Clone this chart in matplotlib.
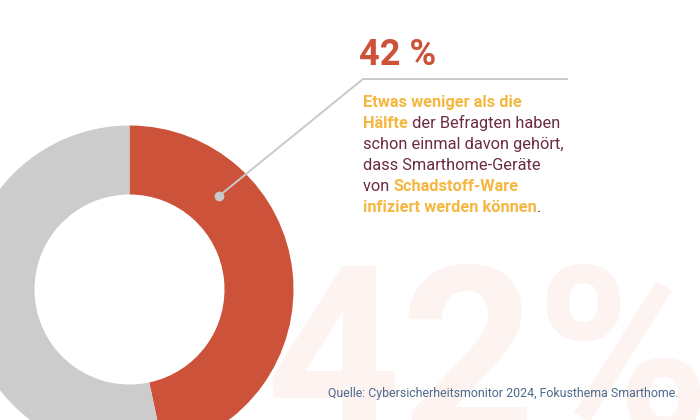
import matplotlib.pyplot as plt

# donut data: share who heard of it vs. not (rest of respondents not shown)
values = [42, 48]
colors = ['#cd523a', '#cccccc']

big_label = '42 %'
bg_label = '42%'
source = 'Quelle: Cybersicherheitsmonitor 2024, Fokusthema Smarthome.'

# (text, highlighted) pieces per line
text_lines = [
    [('Etwas weniger als die', True)],
    [('Hälfte', True), (' der Befragten haben', False)],
    [('schon einmal davon gehört,', False)],
    [('dass Smarthome-Geräte', False)],
    [('von ', False), ('Schadstoff-Ware', True)],
    [('infiziert werden können', True), ('.', False)],
]

YELLOW = '#f5b73f'
MAROON = '#6c2b3f'
FONT = 'Roboto'

W, H = 700, 420
fig = plt.figure(figsize=(7, 4.2), dpi=100)
ax = fig.add_axes([0, 0, 1, 1])

# faint background number
ax.text(266, H - 434, bg_label, fontsize=170, fontweight='bold', family=FONT,
        color='#fdf3f0', va='baseline', ha='left', zorder=0)

# donut
cx, cy = 129.5, H - 289.5
ax.pie(values, colors=colors, startangle=90, counterclock=False,
       center=(cx, cy), radius=164, frame=True,
       wedgeprops=dict(width=69, linewidth=0, zorder=2))

# leader line with dot
ax.plot([219, 363, 568], [H - 196, H - 79, H - 79], color='#c9c9c9', lw=1.4,
        zorder=3, solid_capstyle='butt')
ax.plot([219], [H - 196], 'o', color='#c9c9c9', ms=6, zorder=4)

ax.text(359, H - 65, big_label, fontsize=26, fontweight='bold', family=FONT,
        color='#cd523a', va='baseline', ha='left')

# multi-colour text block
renderer = fig.canvas.get_renderer()
x0, y0, step = 363, H - 107, 21
for i, parts in enumerate(text_lines):
    x = x0
    y = y0 - i * step
    for txt, hi in parts:
        t = ax.text(x, y, txt, fontsize=11.8, family=FONT,
                    fontweight='bold' if hi else 'normal',
                    color=YELLOW if hi else MAROON, va='baseline', ha='left')
        x += t.get_window_extent(renderer).width

ax.text(678, H - 397, source, fontsize=8.95, family=FONT, color='#4d6a8c',
        va='baseline', ha='right', zorder=5)

ax.set_xlim(0, W)
ax.set_ylim(0, H)
ax.set_aspect('equal')
ax.axis('off')

fig.savefig('out.png', dpi=100, facecolor='white')
